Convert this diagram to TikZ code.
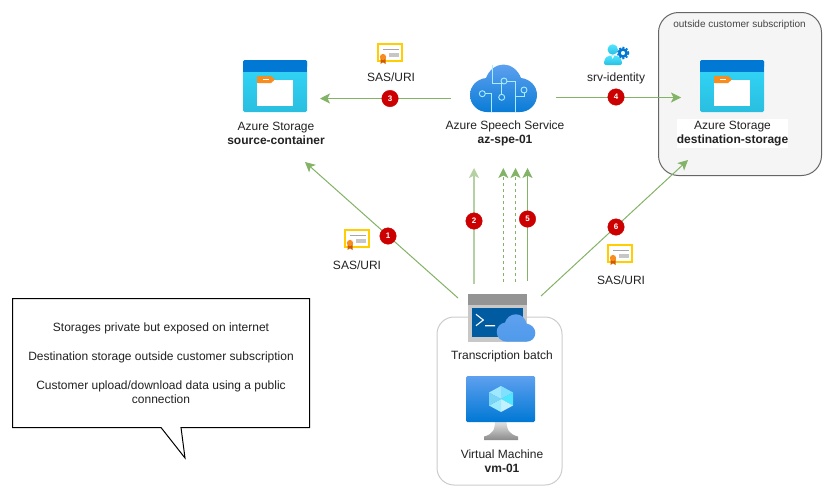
\documentclass[tikz,border=0pt]{standalone}
\usepackage{fontspec}
\setmainfont{Liberation Sans}
\usetikzlibrary{arrows.meta}
\definecolor{edge}{HTML}{82B366}
\definecolor{edgelight}{HTML}{B5D1A3}
\definecolor{ink}{HTML}{222222}
\definecolor{azdark}{HTML}{0078D4}
\definecolor{azmid}{HTML}{5EA0EF}
\definecolor{circuit}{HTML}{A8ECFF}
\definecolor{stTop}{HTML}{32D8FA}
\definecolor{stBot}{HTML}{2ABEE0}
\definecolor{tabor}{HTML}{F78D1E}
\definecolor{gold}{HTML}{FFCD00}
\definecolor{ribbon}{HTML}{D15900}
\definecolor{seal}{HTML}{F78D1E}
\definecolor{frameline}{HTML}{666666}
\definecolor{framefill}{HTML}{F5F5F5}
\definecolor{framelbl}{HTML}{444444}
\definecolor{vmline}{HTML}{CCCCCC}
\definecolor{idTop}{HTML}{50E6FF}
\definecolor{idBot}{HTML}{2ABEE1}
\definecolor{standTop}{HTML}{EBEBEB}
\definecolor{standBot}{HTML}{8A8A8A}
\definecolor{cubeA}{HTML}{A0E8FF}
\definecolor{cubeB}{HTML}{82E0FF}
\definecolor{cubeC}{HTML}{50E6FF}
\definecolor{cubeD}{HTML}{C3F1FF}
\definecolor{cubeE}{HTML}{9CEBFF}
\definecolor{cubeF}{HTML}{7AD4F5}
\definecolor{badgered}{HTML}{CC0000}
\definecolor{winbody}{HTML}{C8C8C8}
\definecolor{winhead}{HTML}{949494}
\definecolor{winblue}{HTML}{005BA1}
\tikzset{
  flow/.style={draw=edge,line width=1pt,-{Stealth[length=10pt,width=10pt,inset=2.5pt]}},
  flowlight/.style={flow,draw=edgelight,line width=1.5pt},
  flowdash/.style={flow,dash pattern=on 3pt off 3pt,line width=1pt},
  badge/.style={circle,fill=badgered,draw=badgered,inner sep=0pt,minimum size=16.5pt,text=white,font=\fontsize{8}{8}\selectfont\bfseries},
  lbl/.style={text=ink,font=\fontsize{12}{14}\selectfont,align=center,inner sep=0pt},
  circ/.style={draw=circuit,line width=.9pt}
}
\newcommand{\storageicon}[2]{%
  \begin{scope}[shift={(#1,#2)}]
    \shade[top color=stTop,bottom color=stBot,rounded corners=1.5pt] (0,0) rectangle (64,52);
    \fill[azdark,rounded corners=1.5pt] (0,0) rectangle (64,8);
    \fill[azdark] (0,4) rectangle (64,12);
    \fill[white] (14,19.5) rectangle (50,46);
    \fill[tabor] (14,16) -- (28,16) -- (32,19.5) -- (28,23) -- (14,23) -- cycle;
    \fill[white] (20,18.5) rectangle (26,20);
  \end{scope}}
\newcommand{\certicon}[2]{%
  \begin{scope}[shift={(#1,#2)}]
    \draw[draw=gold,fill=white,line width=1.6pt] (.8,.8) rectangle (25.2,18.2);
    \draw[gray!70,line width=.7pt] (6,6.5) -- (22,6.5);
    \fill[gray!45] (12,9.5) rectangle (22,13.5);
    \fill[ribbon] (3.5,14) -- (8.5,14) -- (8.5,21) -- (6,19.3) -- (3.5,21) -- cycle;
    \fill[seal] (6,14) circle[radius=3.1];
  \end{scope}}
\begin{document}
\begin{tikzpicture}[x=1pt,y=-1pt]
\useasboundingbox (0,0) rectangle (834,498);
% outside subscription frame
\node[draw=frameline,fill=framefill,rounded corners=20pt,line width=1pt,minimum width=163pt,minimum height=163pt,inner sep=0pt] (frame) at (740,94) {};
\node[text=framelbl,font=\fontsize{10}{12}\selectfont,inner sep=0pt] (framelabel) at (739.5,25) {outside customer subscription};
% VM frame
\node[draw=vmline,fill=white,rounded corners=17pt,line width=1pt,minimum width=125pt,minimum height=168pt,inner sep=0pt] (vmframe) at (499.5,401) {};
% storage icons
\storageicon{243}{60}
\storageicon{700}{60}
\node[lbl] (srclabel) at (276,133) {Azure Storage\\\textbf{source-container}};
\node[lbl,fill=white,minimum width=111pt,minimum height=29pt] (dstlabel) at (732.5,133.5) {Azure Storage\\\textbf{destination-storage}};
% speech cloud
\shade[top color=azmid,bottom color=azdark!90!azmid]
  (487,112) .. controls (477.6,112) and (470,104.4) .. (470,95)
  .. controls (470,86) and (477,79) .. (486,78)
  .. controls (489,70) and (496,64.5) .. (503.5,64.5)
  .. controls (511,64.5) and (518,70) .. (521,78)
  .. controls (530,79) and (537,86) .. (537,95)
  .. controls (537,104.4) and (529.4,112) .. (520,112) -- cycle;
\draw[circ] (492.3,65) -- (492.3,83.3) -- (501.7,83.3) -- (501.7,94.3);
\draw[circ] (501.7,97.3) circle[radius=3];
\draw[circ] (504,81) circle[radius=3];
\draw[circ] (507,81) -- (515,81) -- (515,112);
\draw[circ] (482.3,93.7) circle[radius=3];
\draw[circ] (485.3,93.7) -- (491.7,93.7) -- (491.7,112);
\draw[circ] (524,90) circle[radius=3];
\draw[circ] (524,93) -- (524,96.7) -- (515,96.7);
\node[lbl] (speechlabel) at (505,133) {Azure Speech Service\\\textbf{az-spe-01}};
% identity
\draw[azdark,line width=1.4pt,dash pattern=on 2pt off 1.6pt] (623,53) circle[radius=5.6];
\draw[azdark,line width=2.6pt] (623,53) circle[radius=3.6];
\shade[top color=idTop,bottom color=idBot] (612.7,49.5) circle[radius=5.2];
\shade[top color=idTop,bottom color=idBot,rounded corners=2pt] (604,65) -- (604,60) -- (608,55.5) -- (617.5,55.5) -- (622,60) -- (622,65) -- cycle;
\fill[white] (612.7,59) -- (611.5,56) -- (614,56) -- cycle;
\node[lbl] (idlabel) at (616,78) {srv-identity};
% certificates
\certicon{377}{43}
\certicon{344}{229}
\certicon{607}{244}
\node[lbl] (saslabelc) at (391,77) {SAS/URI};
\node[lbl] (saslabela) at (357,265) {SAS/URI};
\node[lbl] (saslabelf) at (621,280) {SAS/URI};
% batch icon
\fill[winbody] (468,294) rectangle (527,342);
\fill[winhead] (468,294) rectangle (527,304.5);
\fill[winblue] (472,308) rectangle (523,337);
\draw[white,line width=1.1pt] (476,314.3) -- (483.3,320) -- (476,325.7) (485,325.7) -- (495,325.7);
\shade[top color=azmid,bottom color=azmid!85!azdark]
  (507,341.7) .. controls (501,341.7) and (496.7,337.5) .. (496.7,332)
  .. controls (496.7,327) and (500,323.5) .. (505,322.5)
  .. controls (506.5,317.5) and (511,314.3) .. (516,314.3)
  .. controls (521,314.3) and (525.5,318) .. (526.5,323.5)
  .. controls (531.5,324.5) and (535.3,328) .. (535.3,333)
  .. controls (535.3,338) and (531.5,341.7) .. (526.5,341.7) -- cycle;
\node[lbl] (batchlabel) at (502,356) {Transcription batch};
% VM icon
\shade[top color=standTop,bottom color=standBot] (495,420) -- (506.5,420) .. controls (506.5,430) and (509,434) .. (518,436.5) -- (518,440) -- (484,440) -- (484,436.5) .. controls (493,434) and (495,430) .. (495,420) -- cycle;
\shade[top color=azmid,bottom color=azdark,rounded corners=1.5pt] (466,376) rectangle (535,422);
\fill[cubeA] (489,392.5) -- (501,386) -- (501,399) -- cycle;
\fill[cubeB] (501,386) -- (513,392.5) -- (501,399) -- cycle;
\fill[cubeC] (513,392.5) -- (513,405.5) -- (501,399) -- cycle;
\fill[cubeD] (513,405.5) -- (501,412) -- (501,399) -- cycle;
\fill[cubeE] (501,412) -- (489,405.5) -- (501,399) -- cycle;
\fill[cubeF] (489,405.5) -- (489,392.5) -- (501,399) -- cycle;
\node[lbl] (vmlabel) at (502,461) {Virtual Machine\\\textbf{vm-01}};
% connector ends
\coordinate (a1) at (458,298); \coordinate (b1) at (305,162);
\coordinate (a2) at (474,284); \coordinate (b2) at (474,168);
\coordinate (a3) at (451,98.5); \coordinate (b3) at (320,98.5);
\coordinate (a4) at (556,97.5); \coordinate (b4) at (681,97.5);
\coordinate (a5) at (527.5,281); \coordinate (b5) at (527.5,168);
\coordinate (a6) at (541,296); \coordinate (b6) at (688,160);
\coordinate (ad1) at (503.3,282); \coordinate (bd1) at (503.3,168);
\coordinate (ad2) at (515.5,282); \coordinate (bd2) at (515.5,168);
\draw[flow] (a1) -- (b1);
\draw[flowlight] (a2) -- (b2);
\draw[flow] (a3) -- (b3);
\draw[flow] (a4) -- (b4);
\draw[flow] (a5) -- (b5);
\draw[flow] (a6) -- (b6);
\draw[flowdash] (ad1) -- (bd1);
\draw[flowdash] (ad2) -- (bd2);
\node[badge] (n1) at (388,236) {1};
\node[badge] (n2) at (474,221) {2};
\node[badge] (n3) at (390,98.5) {3};
\node[badge] (n4) at (616,97) {4};
\node[badge] (n5) at (527.5,219) {5};
\node[badge] (n6) at (616,227) {6};
% callout
\draw[black,fill=white,line width=1pt,line join=miter] (12.5,298.5) -- (309.5,298.5) -- (309.5,427.5) -- (181,427.5) -- (185,458) -- (161,427.5) -- (12.5,427.5) -- cycle;
\node[lbl] (note) at (161,363) {Storages private but exposed on internet\\[15pt]Destination storage outside customer subscription\\[15pt]Customer upload/download data using a public\\connection};
\end{tikzpicture}
\end{document}
